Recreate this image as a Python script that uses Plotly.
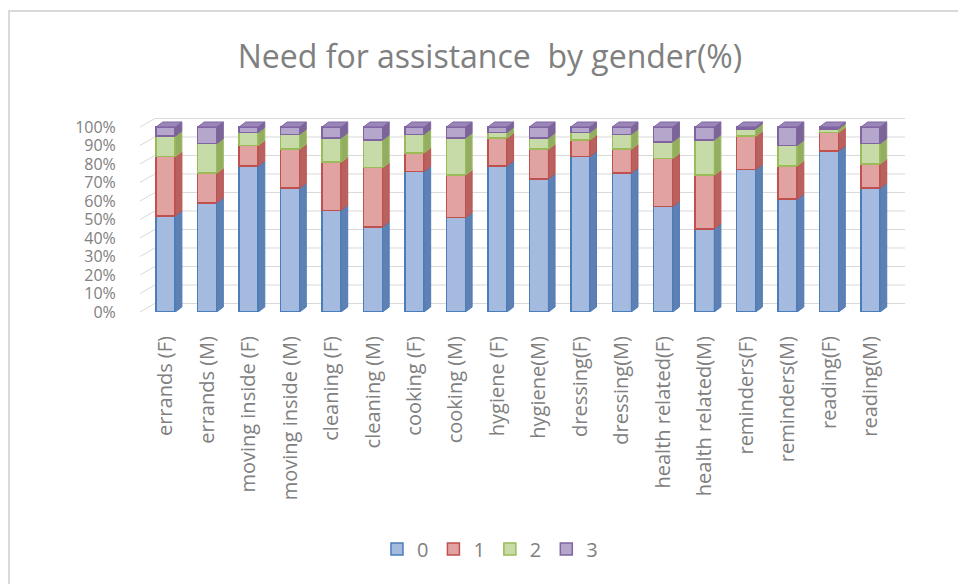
import plotly.graph_objects as go

# Share of respondents at each assistance level (0-3), per activity and gender
categories = [
    "errands (F)", "errands (M)", "moving inside (F)", "moving inside (M)",
    "cleaning (F)", "cleaning (M)", "cooking (F)", "cooking (M)",
    "hygiene (F)", "hygiene(M)", "dressing(F)", "dressing(M)",
    "health related(F)", "health related(M)", "reminders(F)", "reminders(M)",
    "reading(F)", "reading(M)",
]
level_0 = [52, 59, 79, 67, 55, 46, 76, 51, 79, 72, 84, 75, 57, 45, 77, 61, 87, 67]
level_1 = [32, 16, 11, 21, 26, 32, 10, 23, 15, 16, 9, 13, 26, 29, 18, 18, 10, 13]
level_2 = [11, 16, 7, 8, 13, 15, 10, 20, 3, 6, 4, 8, 9, 19, 4, 11, 2, 11]
level_3 = [5, 9, 3, 4, 6, 7, 4, 6, 3, 6, 3, 4, 8, 7, 1, 10, 1, 9]
series_names = ["0", "1", "2", "3"]
y_ticks = [0, 10, 20, 30, 40, 50, 60, 70, 80, 90, 100]
y_tick_text = [f"{t}%" for t in y_ticks]

levels = [level_0, level_1, level_2, level_3]

# face / edge / side / top colours per level
front = ["#a4bbdf", "#e0a3a2", "#c7dba9", "#b5a7cc"]
edge = ["#4a7ebb", "#c0504d", "#9bbb59", "#8064a2"]
side = ["#5f80b2", "#b86260", "#93ad63", "#7b6597"]
top_face = ["#8ba6d1", "#d08886", "#b3cd8c", "#9a87b8"]

FONT = "Open Sans"
GREY = "#808080"

BAR_W = 0.46      # front face width (category units)
DEPTH_X = 0.16    # bar depth, horizontal part
DEPTH_Y = 2.7     # bar depth, vertical part (% units)
WALL_X = 0.36     # back-wall offset for gridlines
WALL_Y = 4.6

x_idx = list(range(len(categories)))
X_MIN, X_MAX = -0.62, 17.83

fig = go.Figure()

# front faces of the stacked columns
for k, vals in enumerate(levels):
    fig.add_trace(go.Bar(
        x=x_idx, y=vals, name=series_names[k], width=BAR_W,
        marker=dict(color=front[k], line=dict(color=edge[k], width=1.5)),
        hovertemplate="%{text}: %{y}%<extra>" + series_names[k] + "</extra>",
        text=categories, textposition="none",
    ))

# right-hand side faces of every segment
cum = [0] * len(categories)
for k, vals in enumerate(levels):
    xs, ys = [], []
    for i, v in enumerate(vals):
        base, top = cum[i], cum[i] + v
        xr = i + BAR_W / 2
        xs += [xr, xr + DEPTH_X, xr + DEPTH_X, xr, xr, None]
        ys += [base, base + DEPTH_Y, top + DEPTH_Y, top, base, None]
        cum[i] = top
    fig.add_trace(go.Scatter(
        x=xs, y=ys, mode="lines", fill="toself", fillcolor=side[k],
        line=dict(color=edge[k], width=1), hoverinfo="skip", showlegend=False,
    ))

# top faces of the highest segment
xs, ys = [], []
for i in x_idx:
    xl, xr, t = i - BAR_W / 2, i + BAR_W / 2, cum[i]
    xs += [xl, xr, xr + DEPTH_X, xl + DEPTH_X, xl, None]
    ys += [t, t, t + DEPTH_Y, t + DEPTH_Y, t, None]
fig.add_trace(go.Scatter(
    x=xs, y=ys, mode="lines", fill="toself", fillcolor=top_face[3],
    line=dict(color=edge[3], width=1), hoverinfo="skip", showlegend=False,
))

# gridlines on the side wall and back wall
shapes = []
for t in y_ticks:
    shapes.append(dict(
        type="path", xref="x", yref="y", layer="below",
        path=f"M {X_MIN},{t} L {X_MIN + WALL_X},{t + WALL_Y} L {X_MAX},{t + WALL_Y}",
        line=dict(color="#d9d9d9", width=1),
    ))

# outer chart frame
shapes.append(dict(
    type="rect", xref="paper", yref="paper",
    x0=-0.1712, x1=2.0, y0=-3.0, y1=1.5515,
    line=dict(color="#d9d9d9", width=2), fillcolor="rgba(0,0,0,0)", layer="below",
))

fig.update_layout(
    width=958, height=584,
    margin=dict(l=140, r=53, t=118, b=272),
    paper_bgcolor="white", plot_bgcolor="white",
    barmode="stack", bargap=0.5,
    font=dict(family=FONT, color=GREY),
    title=dict(
        text="Need for assistance  by gender(%)",
        x=0.4575, xref="paper", xanchor="center",
        y=1 - 57 / 584, yref="container", yanchor="middle",
        font=dict(family=FONT, size=32, color=GREY),
    ),
    xaxis=dict(
        range=[X_MIN, X_MAX], tickmode="array", tickvals=x_idx, ticktext=categories,
        tickangle=-90, tickfont=dict(family=FONT, size=20, color=GREY),
        showgrid=False, zeroline=False, showline=False,
        ticks="outside", ticklen=15, tickcolor="rgba(0,0,0,0)",
    ),
    yaxis=dict(
        range=[0, 104.86], tickmode="array", tickvals=y_ticks, ticktext=y_tick_text,
        tickfont=dict(family=FONT, size=16, color=GREY),
        showgrid=False, zeroline=False, showline=False,
        ticks="outside", ticklen=20, tickcolor="rgba(0,0,0,0)",
    ),
    legend=dict(
        orientation="h", x=0.4575, xanchor="center", y=-1.222, yanchor="middle",
        font=dict(family=FONT, size=20, color=GREY), itemwidth=30,
        traceorder="normal",
    ),
    shapes=shapes,
)

fig.write_html("out.html")
